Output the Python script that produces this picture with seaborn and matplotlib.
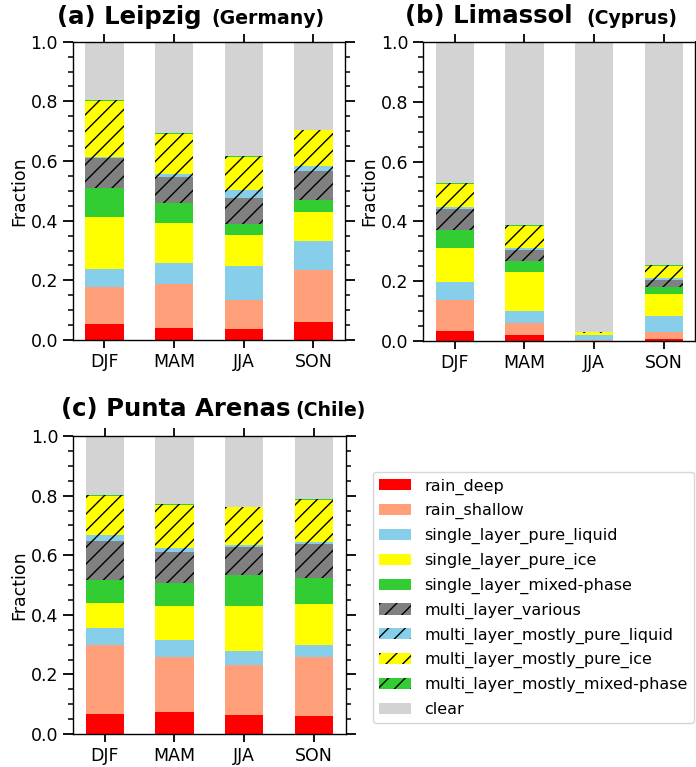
import numpy as np
import matplotlib
matplotlib.use("Agg")
import matplotlib.pyplot as plt
from matplotlib.patches import Patch
from matplotlib.ticker import MultipleLocator
import seaborn as sns

seasons = ["DJF", "MAM", "JJA", "SON"]
categories = ["rain_deep", "rain_shallow", "single_layer_pure_liquid",
              "single_layer_pure_ice", "single_layer_mixed-phase",
              "multi_layer_various", "multi_layer_mostly_pure_liquid",
              "multi_layer_mostly_pure_ice", "multi_layer_mostly_mixed-phase",
              "clear"]
colors = ["#ff0000", "#ffa07a", "#87ceeb", "#ffff00", "#32cd32",
          "#808080", "#87ceeb", "#ffff00", "#32cd32", "#d3d3d3"]
hatches = ["", "", "", "", "", "//", "//", "//", "//", ""]

# rows: categories, columns: seasons
leipzig = [
    [0.054, 0.041, 0.037, 0.061],
    [0.123, 0.147, 0.098, 0.175],
    [0.060, 0.069, 0.114, 0.095],
    [0.176, 0.134, 0.104, 0.098],
    [0.098, 0.069, 0.037, 0.041],
    [0.100, 0.087, 0.085, 0.096],
    [0.004, 0.008, 0.028, 0.018],
    [0.187, 0.135, 0.110, 0.119],
    [0.004, 0.003, 0.003, 0.002],
    [0.194, 0.307, 0.384, 0.295],
]
limassol = [
    [0.031, 0.019, 0.0005, 0.007],
    [0.104, 0.041, 0.001, 0.023],
    [0.063, 0.041, 0.018, 0.054],
    [0.113, 0.130, 0.005, 0.072],
    [0.061, 0.036, 0.001, 0.024],
    [0.069, 0.038, 0.001, 0.023],
    [0.007, 0.004, 0.0005, 0.006],
    [0.077, 0.075, 0.002, 0.042],
    [0.003, 0.003, 0.0005, 0.003],
    [0.472, 0.613, 0.9705, 0.746],
]
punta_arenas = [
    [0.067, 0.074, 0.065, 0.059],
    [0.230, 0.184, 0.167, 0.199],
    [0.059, 0.056, 0.045, 0.041],
    [0.085, 0.115, 0.153, 0.136],
    [0.077, 0.079, 0.103, 0.090],
    [0.131, 0.103, 0.096, 0.113],
    [0.018, 0.012, 0.005, 0.007],
    [0.132, 0.146, 0.127, 0.140],
    [0.003, 0.003, 0.002, 0.004],
    [0.198, 0.228, 0.237, 0.211],
]

sns.set_theme(style="ticks")
plt.rcParams.update({
    "font.family": ["DejaVu Sans"],
    "text.color": "black",
    "axes.labelcolor": "black",
    "axes.linewidth": 1.0,
    "hatch.linewidth": 1.0,
    "xtick.major.size": 6,
    "ytick.major.size": 7,
    "ytick.minor.size": 3.5,
    "xtick.major.width": 1.3,
    "ytick.major.width": 1.3,
    "ytick.minor.width": 1.1,
    "xtick.color": "black",
    "ytick.color": "black",
    "xtick.labelcolor": "black",
    "ytick.labelcolor": "black",
    "axes.edgecolor": "black",
})

W, H = 696, 767
fig = plt.figure(figsize=(W / 100, H / 100), dpi=100)


def px_axes(left, top, right, bottom):
    return fig.add_axes([left / W, 1 - bottom / H, (right - left) / W, (bottom - top) / H])


def draw_panel(ax, data):
    vals = np.array(data, dtype=float)
    cum = np.cumsum(vals, axis=0)
    for i in range(len(categories) - 1, -1, -1):
        n_before = len(ax.patches)
        sns.barplot(x=seasons, y=cum[i], color=colors[i], saturation=1,
                    width=0.55, errorbar=None, linewidth=0, edgecolor="black",
                    ax=ax)
        for p in ax.patches[n_before:]:
            if hatches[i]:
                p.set_hatch(hatches[i])
    ax.set_xlim(-0.455, 3.455)
    ax.set_ylim(0, 1.0)
    ax.yaxis.set_major_locator(MultipleLocator(0.2))
    ax.yaxis.set_minor_locator(MultipleLocator(0.05))
    ax.tick_params(axis="y", which="both", left=True, right=True,
                   labelsize=12.5, direction="out", colors="black")
    ax.tick_params(axis="x", which="both", bottom=True, top=True,
                   labelsize=12.5, direction="out", colors="black")
    ax.set_ylabel("Fraction", fontsize=12.5, color="black", labelpad=1.5)
    ax.set_xlabel("")
    for s in ax.spines.values():
        s.set_visible(True)
        s.set_color("black")


axa = px_axes(72.7, 41.7, 345.2, 340.0)
axb = px_axes(423.0, 42.3, 695.5, 340.7)
axc = px_axes(73.0, 436.0, 345.5, 734.0)

draw_panel(axa, leipzig)
draw_panel(axb, limassol)
draw_panel(axc, punta_arenas)


def title(x_main, x_country, y, main, country):
    fig.text(x_main / W, 1 - y / H, main, fontsize=17.6, fontweight="bold",
             va="baseline", ha="left", color="black")
    fig.text(x_country / W, 1 - y / H, country, fontsize=13.6, fontweight="bold",
             va="baseline", ha="left", color="black")


title(57, 211, 24, "(a) Leipzig", "(Germany)")
title(405, 586, 23.5, "(b) Limassol", "(Cyprus)")
title(61, 295, 416, "(c) Punta Arenas", "(Chile)")

handles = [Patch(facecolor=c, edgecolor="black", linewidth=0, hatch=h)
           for c, h in zip(colors, hatches)]
leg = fig.legend(handles, categories, loc="upper left",
                 bbox_to_anchor=(373 / W, 1 - 472 / H), fontsize=11.5,
                 frameon=True, borderaxespad=0, labelspacing=0.54)
for t in leg.get_texts():
    t.set_color("black")

fig.savefig("out.png", dpi=100)
